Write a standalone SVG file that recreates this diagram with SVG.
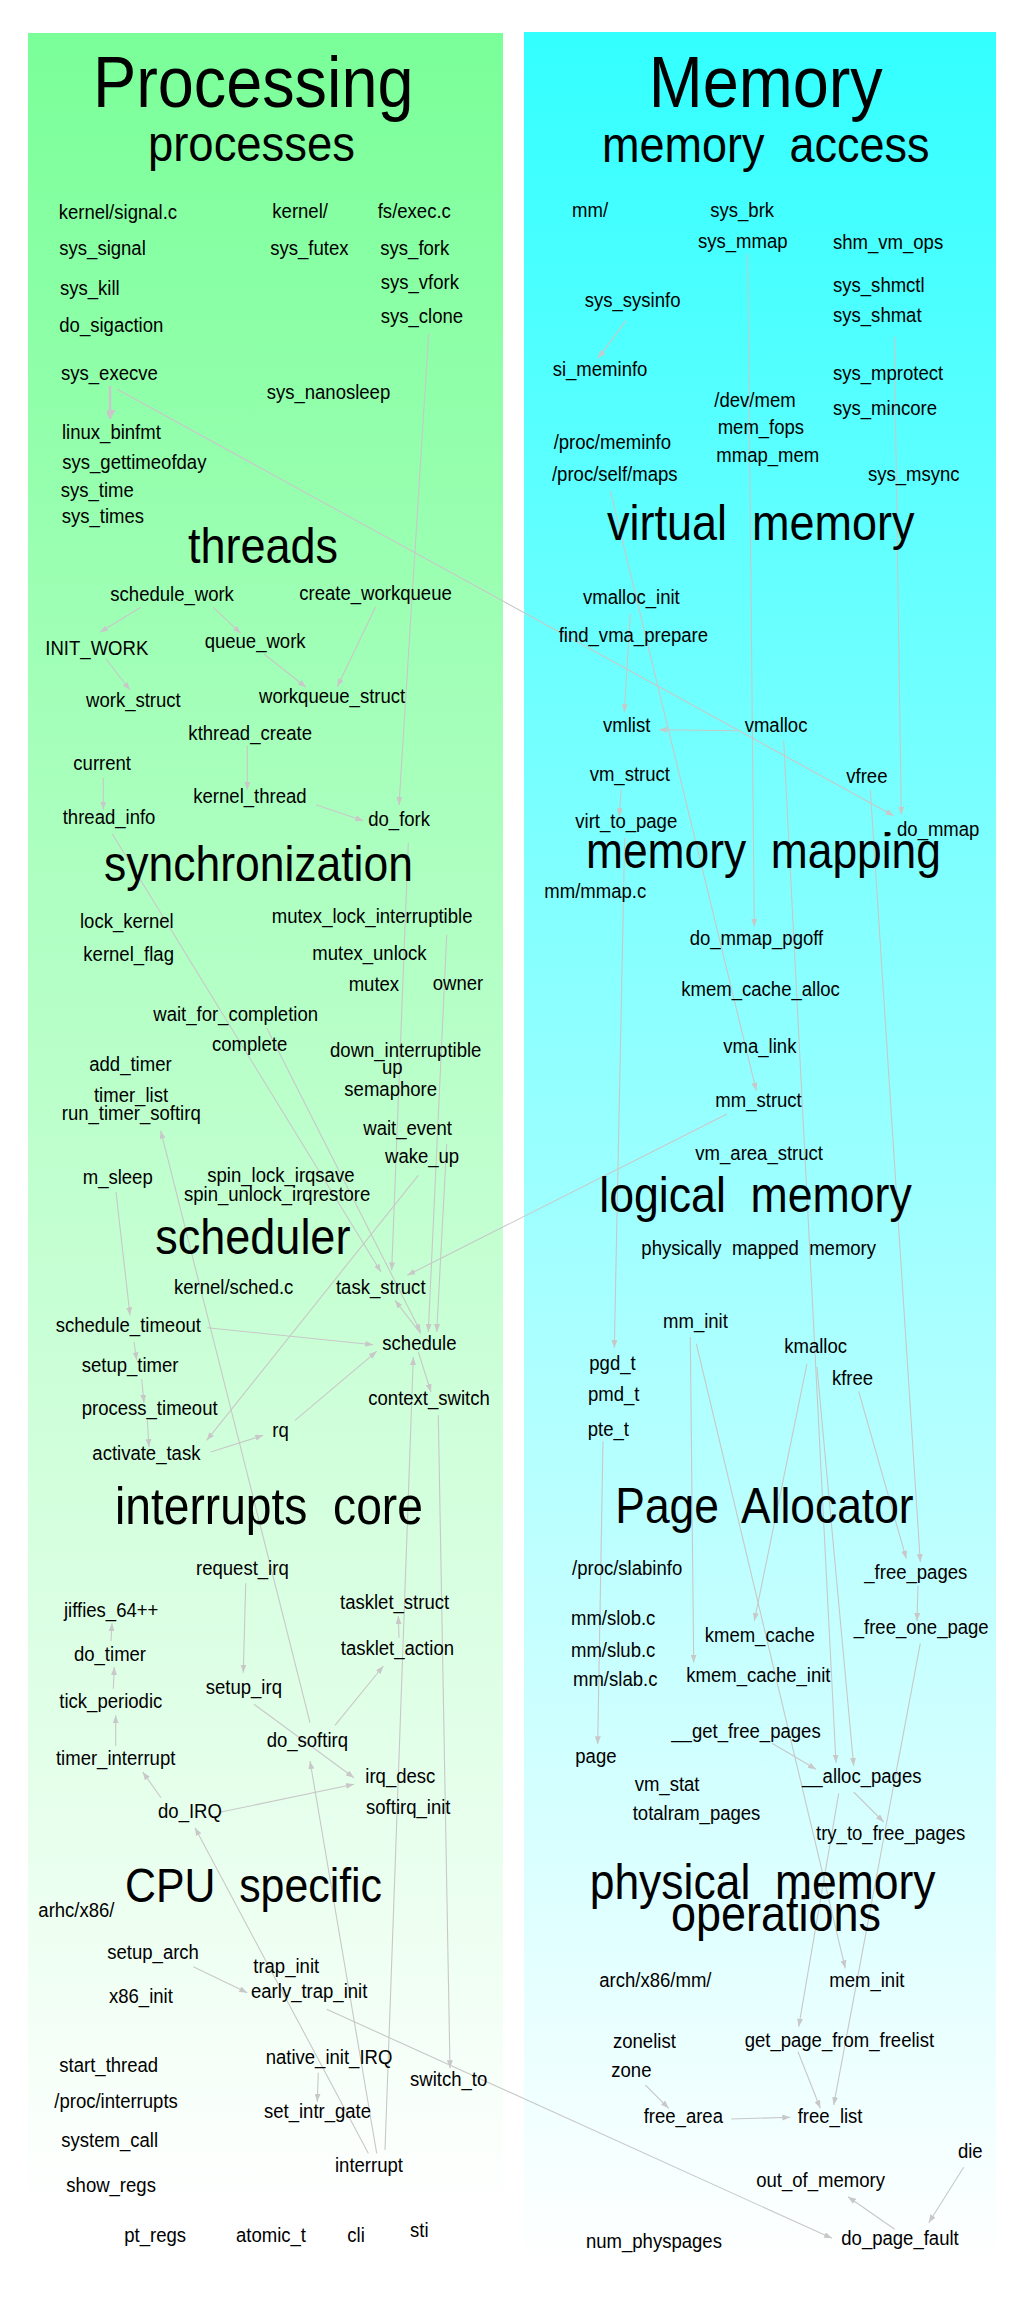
<svg xmlns="http://www.w3.org/2000/svg" width="1024" height="2300" viewBox="0 0 1024 2300">
<style>
text{font-family:"Liberation Sans",Arial,sans-serif;fill:#000}
.n{font-size:20.6px}
.t{font-size:50px}
.e line{stroke:#c8c8c8;stroke-width:1.1;fill:none;marker-end:url(#ah)}
</style>
<defs>
<linearGradient id="gL" x1="0" y1="0" x2="0" y2="1"><stop offset="0" stop-color="#7aff99"/><stop offset="1" stop-color="#ffffff"/></linearGradient>
<linearGradient id="gR" x1="0" y1="0" x2="0" y2="1"><stop offset="0" stop-color="#33ffff"/><stop offset="1" stop-color="#ffffff"/></linearGradient>
<marker id="ah" viewBox="0 0 8 6" refX="8" refY="3" markerWidth="8" markerHeight="6" markerUnits="userSpaceOnUse" orient="auto"><path d="M0,0 L8,3 L0,6 z" fill="#c8c8c8"/></marker>
<marker id="ahT" viewBox="0 0 12 9" refX="9" refY="6" markerWidth="12" markerHeight="9" markerUnits="userSpaceOnUse" orient="auto"><path d="M0,0 L9,6 L0,12 z" fill="#c8c8c8"/></marker>
</defs>
<rect width="1024" height="2300" fill="#fff"/>
<rect id="panel-processing" x="28" y="33" width="475" height="2182" fill="url(#gL)"/>
<rect id="panel-memory" x="524" y="32" width="472" height="2231" fill="url(#gR)"/>

<g id="edges" class="e">
<line x1="428.7" y1="333" x2="399" y2="805"/>
<line x1="626" y1="320.7" x2="598" y2="358.3"/>
<line x1="747.7" y1="254" x2="754.3" y2="927"/>
<line x1="894.3" y1="336.7" x2="901.3" y2="814.7"/>
<line x1="110" y1="386" x2="110" y2="419" style="stroke-width:2.6;marker-end:url(#ahT)"/>
<line x1="116.7" y1="389" x2="893.7" y2="815.7"/>
<line x1="140.7" y1="607.3" x2="100" y2="632.3"/>
<line x1="213.3" y1="607.3" x2="240.7" y2="633.3"/>
<line x1="106" y1="659" x2="130" y2="690"/>
<line x1="264" y1="654" x2="306" y2="687.3"/>
<line x1="375.7" y1="606.7" x2="337.3" y2="686.7"/>
<line x1="247.3" y1="745.7" x2="247.3" y2="789.7"/>
<line x1="738" y1="730.7" x2="659" y2="729.7"/>
<line x1="630.3" y1="614" x2="624.3" y2="712.3"/>
<line x1="610.3" y1="490.7" x2="756.3" y2="1090.7"/>
<line x1="783.7" y1="740.7" x2="836" y2="1762.7"/>
<line x1="621.3" y1="788" x2="619.3" y2="816.3"/>
<line x1="870.3" y1="789.7" x2="920.3" y2="1562"/>
<line x1="624.7" y1="838" x2="614.3" y2="1348"/>
<line x1="727" y1="1114" x2="407.3" y2="1275.3"/>
<line x1="103.3" y1="778" x2="103.3" y2="809.7"/>
<line x1="316" y1="804.7" x2="363.3" y2="820.7"/>
<line x1="112.3" y1="834" x2="381" y2="1272"/>
<line x1="266.7" y1="1028" x2="420.7" y2="1332"/>
<line x1="408.3" y1="843" x2="391.7" y2="1270.3"/>
<line x1="446.7" y1="934.7" x2="428.3" y2="1332"/>
<line x1="446.7" y1="1144" x2="436.7" y2="1332"/>
<line x1="310" y1="1722.7" x2="160.7" y2="1130.7"/>
<line x1="116" y1="1192" x2="130" y2="1315.3"/>
<line x1="207.3" y1="1327.7" x2="373.3" y2="1344.7"/>
<line x1="134" y1="1342" x2="136.7" y2="1360.3"/>
<line x1="141.7" y1="1379.3" x2="144" y2="1402.7"/>
<line x1="147.3" y1="1420.3" x2="149" y2="1447"/>
<line x1="210.7" y1="1452" x2="263.3" y2="1435.3"/>
<line x1="295" y1="1420.3" x2="376.7" y2="1351.3"/>
<line x1="418.3" y1="1175.3" x2="206.7" y2="1440.3"/>
<line x1="420.7" y1="1333.7" x2="395" y2="1300.3"/>
<line x1="418.3" y1="1352" x2="431" y2="1392"/>
<line x1="385" y1="2150" x2="413.3" y2="1357"/>
<line x1="368.3" y1="2153.3" x2="195" y2="1827.7"/>
<line x1="376.7" y1="2153.3" x2="310" y2="1761"/>
<line x1="438.3" y1="1415.3" x2="450" y2="2068.3"/>
<line x1="326.7" y1="2009.3" x2="832" y2="2238.3"/>
<line x1="111" y1="1641" x2="112" y2="1623.3"/>
<line x1="113.3" y1="1688.7" x2="114.3" y2="1667"/>
<line x1="115.7" y1="1746" x2="115.7" y2="1715.3"/>
<line x1="161" y1="1797.7" x2="142.7" y2="1772"/>
<line x1="221" y1="1812" x2="354" y2="1784.3"/>
<line x1="245.7" y1="1583.3" x2="243.3" y2="1672.7"/>
<line x1="254" y1="1704.3" x2="354" y2="1777.7"/>
<line x1="335" y1="1725.3" x2="383.3" y2="1666"/>
<line x1="399" y1="1637.7" x2="398.3" y2="1616"/>
<line x1="193.3" y1="1966.7" x2="247.3" y2="1992.7"/>
<line x1="318.3" y1="2072.7" x2="317.3" y2="2101.7"/>
<line x1="603" y1="1441.3" x2="597.7" y2="1744.3"/>
<line x1="690.3" y1="1337" x2="693.7" y2="1662.7"/>
<line x1="696.3" y1="1343.7" x2="845.3" y2="1968.3"/>
<line x1="807" y1="1363.7" x2="754.3" y2="1621"/>
<line x1="817" y1="1367" x2="853.7" y2="1766"/>
<line x1="858.7" y1="1391.3" x2="906.3" y2="1558.7"/>
<line x1="772" y1="1743.3" x2="816" y2="1769.3"/>
<line x1="853.7" y1="1792" x2="883.7" y2="1822"/>
<line x1="838.7" y1="1793.3" x2="798.7" y2="2026.7"/>
<line x1="918" y1="1585.3" x2="917" y2="1621"/>
<line x1="920.3" y1="1643.3" x2="833.7" y2="2105"/>
<line x1="798" y1="2051.7" x2="820.3" y2="2108.3"/>
<line x1="645.3" y1="2085" x2="668.7" y2="2108.3"/>
<line x1="731.3" y1="2119" x2="790.3" y2="2117.3"/>
<line x1="963.7" y1="2167.3" x2="928.7" y2="2222.7"/>
<line x1="894.7" y1="2229.3" x2="848" y2="2196.7"/>
</g>

<circle cx="888.7" cy="834" r="2" fill="#000"/>

<g id="labels" transform="scale(0.9 1)">
<g id="titles" class="t">
<text x="103.3" y="107" style="font-size:72px">Processing</text>
<text x="164.4" y="161.5" style="font-size:50.5px">processes</text>
<text x="720.8" y="107" style="font-size:72px">Memory</text>
<text x="668.9" y="162" xml:space="preserve" style="white-space:pre">memory  access</text>
<text x="208.9" y="563">threads</text>
<text x="674.4" y="540" xml:space="preserve" style="white-space:pre">virtual  memory</text>
<text x="115.6" y="881.3" style="font-size:49.4px">synchronization</text>
<text x="651.1" y="868" xml:space="preserve" style="font-size:49.3px;white-space:pre">memory  mapping</text>
<text x="172.6" y="1253.7">scheduler</text>
<text x="665.9" y="1212" xml:space="preserve" style="font-size:49.6px;white-space:pre">logical  memory</text>
<text x="127.8" y="1523.7" xml:space="preserve" style="font-size:51.3px;white-space:pre">interrupts  core</text>
<text x="683.7" y="1523" xml:space="preserve" style="font-size:49.3px;white-space:pre">Page  Allocator</text>
<text x="138.9" y="1902" xml:space="preserve" style="font-size:47.6px;white-space:pre">CPU  specific</text>
<text x="655.2" y="1899.3" xml:space="preserve" style="font-size:49.4px;white-space:pre">physical  memory</text>
<text x="745.6" y="1931">operations</text>
</g>
<g class="n">
<g id="kernel_signal_c"><text x="65.2" y="219">kernel/signal.c</text></g>
<g id="sys_signal"><text x="65.9" y="255">sys_signal</text></g>
<g id="sys_kill"><text x="66.7" y="295">sys_kill</text></g>
<g id="do_sigaction"><text x="65.9" y="331.7">do_sigaction</text></g>
<g id="sys_execve"><text x="67.8" y="380">sys_execve</text></g>
<g id="kernel_dir"><text x="302.6" y="218.3">kernel/</text></g>
<g id="sys_futex"><text x="300.3" y="255">sys_futex</text></g>
<g id="fs_exec_c"><text x="419.7" y="218">fs/exec.c</text></g>
<g id="sys_fork"><text x="422.6" y="255">sys_fork</text></g>
<g id="sys_vfork"><text x="423" y="289">sys_vfork</text></g>
<g id="sys_clone"><text x="423" y="322.7">sys_clone</text></g>
<g id="mm_dir"><text x="635.6" y="217">mm/</text></g>
<g id="sys_brk"><text x="789.2" y="216.7">sys_brk</text></g>
<g id="sys_mmap"><text x="775.6" y="248.3">sys_mmap</text></g>
<g id="shm_vm_ops"><text x="925.6" y="249.3">shm_vm_ops</text></g>
<g id="sys_sysinfo"><text x="649.7" y="307.3">sys_sysinfo</text></g>
<g id="si_meminfo"><text x="614.1" y="376">si_meminfo</text></g>
<g id="sys_shmctl"><text x="925.6" y="291.7">sys_shmctl</text></g>
<g id="sys_shmat"><text x="925.6" y="321.7">sys_shmat</text></g>
<g id="sys_mprotect"><text x="925.6" y="380">sys_mprotect</text></g>
<g id="sys_nanosleep"><text x="296.3" y="399">sys_nanosleep</text></g>
<g id="linux_binfmt"><text x="68.9" y="439">linux_binfmt</text></g>
<g id="sys_gettimeofday"><text x="69.2" y="469">sys_gettimeofday</text></g>
<g id="sys_time"><text x="67.4" y="496.7">sys_time</text></g>
<g id="sys_times"><text x="68.6" y="523.3">sys_times</text></g>
<g id="schedule_work"><text x="122.6" y="600.7">schedule_work</text></g>
<g id="create_workqueue"><text x="332.6" y="600">create_workqueue</text></g>
<g id="INIT_WORK"><text x="50.4" y="654.7">INIT_WORK</text></g>
<g id="queue_work"><text x="227.4" y="648.3">queue_work</text></g>
<g id="work_struct"><text x="95.6" y="706.7">work_struct</text></g>
<g id="workqueue_struct"><text x="287.8" y="703.3">workqueue_struct</text></g>
<g id="kthread_create"><text x="209.3" y="740">kthread_create</text></g>
<g id="current"><text x="81.5" y="770">current</text></g>
<g id="dev_mem"><text x="793.7" y="407.3">/dev/mem</text></g>
<g id="sys_mincore"><text x="925.6" y="414.7">sys_mincore</text></g>
<g id="mem_fops"><text x="797.4" y="434">mem_fops</text></g>
<g id="proc_meminfo"><text x="615.2" y="449">/proc/meminfo</text></g>
<g id="mmap_mem"><text x="795.9" y="462.3">mmap_mem</text></g>
<g id="proc_self_maps"><text x="613.3" y="481.3">/proc/self/maps</text></g>
<g id="sys_msync"><text x="964.4" y="481.3">sys_msync</text></g>
<g id="vmalloc_init"><text x="647.8" y="604">vmalloc_init</text></g>
<g id="find_vma_prepare"><text x="620.8" y="641.7">find_vma_prepare</text></g>
<g id="vmlist"><text x="670" y="731.7">vmlist</text></g>
<g id="vmalloc"><text x="827.4" y="731.7">vmalloc</text></g>
<g id="vm_struct"><text x="655.2" y="781.3">vm_struct</text></g>
<g id="vfree"><text x="940.3" y="783">vfree</text></g>
<g id="virt_to_page"><text x="639.2" y="828">virt_to_page</text></g>
<g id="do_mmap"><text x="996.7" y="835.7">do_mmap</text></g>
<g id="mm_mmap_c"><text x="604.8" y="898">mm/mmap.c</text></g>
<g id="do_mmap_pgoff"><text x="766.3" y="944.7">do_mmap_pgoff</text></g>
<g id="kmem_cache_alloc"><text x="757" y="995.7">kmem_cache_alloc</text></g>
<g id="vma_link"><text x="803.7" y="1053">vma_link</text></g>
<g id="mm_struct"><text x="794.8" y="1107.3">mm_struct</text></g>
<g id="vm_area_struct"><text x="772.6" y="1160">vm_area_struct</text></g>
<g id="kernel_thread"><text x="214.8" y="803">kernel_thread</text></g>
<g id="thread_info"><text x="69.7" y="824">thread_info</text></g>
<g id="do_fork"><text x="409.2" y="826.3">do_fork</text></g>
<g id="lock_kernel"><text x="88.9" y="928">lock_kernel</text></g>
<g id="kernel_flag"><text x="92.6" y="960.7">kernel_flag</text></g>
<g id="mutex_lock_interruptible"><text x="301.9" y="923">mutex_lock_interruptible</text></g>
<g id="mutex_unlock"><text x="347" y="959.7">mutex_unlock</text></g>
<g id="mutex"><text x="387.4" y="990.7">mutex</text></g>
<g id="owner"><text x="480.8" y="989.7">owner</text></g>
<g id="wait_for_completion"><text x="170.3" y="1020.7">wait_for_completion</text></g>
<g id="complete"><text x="235.6" y="1051.3">complete</text></g>
<g id="down_interruptible"><text x="366.7" y="1057.3">down_interruptible</text></g>
<g id="up"><text x="424.4" y="1074">up</text></g>
<g id="semaphore"><text x="382.6" y="1096.3">semaphore</text></g>
<g id="add_timer"><text x="99.2" y="1070.7">add_timer</text></g>
<g id="timer_list"><text x="104.4" y="1102">timer_list</text></g>
<g id="run_timer_softirq"><text x="68.6" y="1119.7">run_timer_softirq</text></g>
<g id="wait_event"><text x="403.7" y="1134.7">wait_event</text></g>
<g id="wake_up"><text x="427.8" y="1162.7">wake_up</text></g>
<g id="m_sleep"><text x="91.9" y="1183.7">m_sleep</text></g>
<g id="spin_lock_irqsave"><text x="230.3" y="1182">spin_lock_irqsave</text></g>
<g id="spin_unlock_irqrestore"><text x="204.4" y="1201.3">spin_unlock_irqrestore</text></g>
<g id="kernel_sched_c"><text x="193.3" y="1293.7">kernel/sched.c</text></g>
<g id="task_struct"><text x="373.3" y="1293.7">task_struct</text></g>
<g id="schedule_timeout"><text x="61.9" y="1332">schedule_timeout</text></g>
<g id="schedule"><text x="424.8" y="1350.3">schedule</text></g>
<g id="setup_timer"><text x="90.8" y="1372">setup_timer</text></g>
<g id="context_switch"><text x="409.2" y="1405.3">context_switch</text></g>
<g id="process_timeout"><text x="90.8" y="1414.7">process_timeout</text></g>
<g id="rq"><text x="302.6" y="1437">rq</text></g>
<g id="activate_task"><text x="102.6" y="1460.3">activate_task</text></g>
<g id="physically_mapped_memory"><text x="712.6" y="1255.3" xml:space="preserve" style="white-space:pre">physically  mapped  memory</text></g>
<g id="mm_init"><text x="736.7" y="1328">mm_init</text></g>
<g id="kmalloc"><text x="871.4" y="1352.7">kmalloc</text></g>
<g id="pgd_t"><text x="654.8" y="1370.3">pgd_t</text></g>
<g id="kfree"><text x="924.4" y="1385.3">kfree</text></g>
<g id="pmd_t"><text x="653.3" y="1401.3">pmd_t</text></g>
<g id="pte_t"><text x="653" y="1436">pte_t</text></g>
<g id="request_irq"><text x="217.8" y="1575.3">request_irq</text></g>
<g id="jiffies_64"><text x="71.1" y="1617">jiffies_64++</text></g>
<g id="tasklet_struct"><text x="377.8" y="1608.7">tasklet_struct</text></g>
<g id="do_timer"><text x="82.2" y="1661">do_timer</text></g>
<g id="tasklet_action"><text x="378.6" y="1655">tasklet_action</text></g>
<g id="setup_irq"><text x="228.6" y="1694.3">setup_irq</text></g>
<g id="tick_periodic"><text x="65.9" y="1708.3">tick_periodic</text></g>
<g id="do_softirq"><text x="296.3" y="1746.7">do_softirq</text></g>
<g id="timer_interrupt"><text x="62.2" y="1765.3">timer_interrupt</text></g>
<g id="irq_desc"><text x="405.9" y="1783.3">irq_desc</text></g>
<g id="do_IRQ"><text x="175.6" y="1817.7">do_IRQ</text></g>
<g id="softirq_init"><text x="406.7" y="1814.3">softirq_init</text></g>
<g id="arhc_x86"><text x="42.6" y="1917">arhc/x86/</text></g>
<g id="proc_slabinfo"><text x="635.6" y="1575.3">/proc/slabinfo</text></g>
<g id="_free_pages"><text x="960.3" y="1579.3">_free_pages</text></g>
<g id="mm_slob_c"><text x="634.4" y="1625.3">mm/slob.c</text></g>
<g id="_free_one_page"><text x="948.6" y="1633.7">_free_one_page</text></g>
<g id="kmem_cache"><text x="783" y="1642">kmem_cache</text></g>
<g id="mm_slub_c"><text x="634.4" y="1656.7">mm/slub.c</text></g>
<g id="kmem_cache_init"><text x="762.6" y="1681.7">kmem_cache_init</text></g>
<g id="mm_slab_c"><text x="636.7" y="1686">mm/slab.c</text></g>
<g id="__get_free_pages"><text x="745.9" y="1738.3">__get_free_pages</text></g>
<g id="page"><text x="639.2" y="1762.7">page</text></g>
<g id="__alloc_pages"><text x="891.1" y="1783.3">__alloc_pages</text></g>
<g id="vm_stat"><text x="705.2" y="1791">vm_stat</text></g>
<g id="totalram_pages"><text x="703" y="1820">totalram_pages</text></g>
<g id="try_to_free_pages"><text x="906.7" y="1840">try_to_free_pages</text></g>
<g id="setup_arch"><text x="119.2" y="1959.3">setup_arch</text></g>
<g id="trap_init"><text x="281.4" y="1973.3">trap_init</text></g>
<g id="x86_init"><text x="121.1" y="2002.7">x86_init</text></g>
<g id="early_trap_init"><text x="278.9" y="1998.3">early_trap_init</text></g>
<g id="start_thread"><text x="65.9" y="2071.7">start_thread</text></g>
<g id="native_init_IRQ"><text x="295.2" y="2064.3">native_init_IRQ</text></g>
<g id="switch_to"><text x="455.6" y="2085.7">switch_to</text></g>
<g id="proc_interrupts"><text x="60.3" y="2108.3">/proc/interrupts</text></g>
<g id="set_intr_gate"><text x="293.3" y="2118.3">set_intr_gate</text></g>
<g id="system_call"><text x="68.1" y="2147.3">system_call</text></g>
<g id="interrupt"><text x="372.2" y="2171.7">interrupt</text></g>
<g id="show_regs"><text x="73.7" y="2191.7">show_regs</text></g>
<g id="pt_regs"><text x="138.1" y="2241.7">pt_regs</text></g>
<g id="atomic_t"><text x="262.2" y="2241.7">atomic_t</text></g>
<g id="cli"><text x="385.9" y="2241.7">cli</text></g>
<g id="sti"><text x="455.6" y="2236.7">sti</text></g>
<g id="arch_x86_mm"><text x="665.9" y="1986.7">arch/x86/mm/</text></g>
<g id="mem_init"><text x="921.4" y="1986.7">mem_init</text></g>
<g id="zonelist"><text x="681.1" y="2048.3">zonelist</text></g>
<g id="get_page_from_freelist"><text x="827.4" y="2046.7">get_page_from_freelist</text></g>
<g id="zone"><text x="679.2" y="2076.7">zone</text></g>
<g id="free_area"><text x="715.2" y="2123.3">free_area</text></g>
<g id="free_list"><text x="886.3" y="2122.7">free_list</text></g>
<g id="die"><text x="1064.4" y="2158.3">die</text></g>
<g id="out_of_memory"><text x="840.3" y="2187.3">out_of_memory</text></g>
<g id="do_page_fault"><text x="934.8" y="2245">do_page_fault</text></g>
<g id="num_physpages"><text x="651.1" y="2248.3">num_physpages</text></g>
</g>
</g>
</svg>
